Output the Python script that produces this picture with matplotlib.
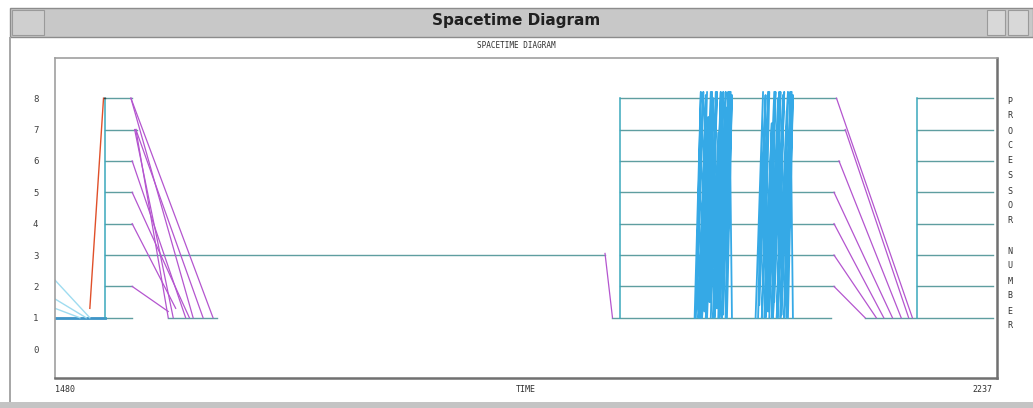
import matplotlib
matplotlib.use("Agg")
import matplotlib.pyplot as plt
from matplotlib.patches import Rectangle

W, H = 1033, 408

T_MIN, T_MAX = 1480, 2237
PROCS = [0, 1, 2, 3, 4, 5, 6, 7, 8]

# processor state lines (start time, end time, processor)
state_t0 = [1480, 1520, 1520, 1520, 1520, 1520, 1520, 1520, 1571,
            1928, 1934, 1934, 1934, 1934, 1934, 1934, 1934,
            2131, 2173, 2173, 2173, 2173, 2173, 2173, 2173]
state_t1 = [1542, 1542, 1922, 1542, 1542, 1542, 1546, 1542, 1610,
            2104, 2106, 2106, 2106, 2106, 2110, 2115, 2108,
            2234, 2234, 2234, 2234, 2234, 2234, 2234, 2234]
state_p = [1, 2, 3, 4, 5, 6, 7, 8, 1,
           1, 2, 3, 4, 5, 6, 7, 8,
           1, 2, 3, 4, 5, 6, 7, 8]

# processor start-up (vertical lines)
start_t = [1520, 1934, 2173]

# messages (t0, p0, t1, p1)
msg_t0 = [1541, 1545, 1544, 1541, 1545, 1542, 1542, 1542, 1542, 1922,
          2108, 2115, 2110, 2106, 2106, 2106, 2106]
msg_p0 = [8, 7, 7, 8, 7, 6, 5, 4, 2, 3.05,
          8, 7, 6, 5, 4, 3, 2]
msg_t1 = [1607, 1571, 1575, 1591, 1599, 1585, 1588, 1577, 1571, 1928,
          2169, 2166, 2160, 2153, 2146, 2140, 2131]
msg_p1 = [1, 1, 1, 1, 1, 1, 1, 1.3, 1.2, 1,
          1, 1, 1, 1, 1, 1, 1]

# spawn line (red) and early light traffic
spawn_t = [1508, 1519, 1520]
spawn_p = [1.3, 8, 8]
early_t0 = [1480, 1480, 1480]
early_p0 = [2.2, 1.6, 1.3]
early_t1 = [1508, 1505, 1500]

# message bursts
b1_t = [1994, 1999, 1995, 2001, 1996, 1998, 2003, 1997, 2004, 1999,
        2005, 2000, 2007, 2002, 2008, 2003, 2009, 2004, 2011, 2006,
        2012, 2007, 2013, 2009, 2015, 2010, 2016, 2012, 2017, 2013,
        2019, 2014, 2020, 2016, 2021, 2017, 2023, 2019, 2024, 2020,
        2022, 2024]
b1_p = [1, 8.2, 1, 8.2, 1.6, 1, 8.1, 1, 8.2, 1,
        7.4, 1, 8.2, 1.2, 8.2, 1, 8, 1, 8.2, 1.5,
        8.2, 1, 6.9, 1, 8.2, 1, 8.1, 1.3, 8.2, 1,
        8.2, 1, 7.7, 1, 8.2, 1.1, 8.2, 1, 8.1, 1,
        8.2, 1]
b2_t = [2043, 2049, 2045, 2051, 2046, 2053, 2048, 2054, 2050, 2056,
        2051, 2058, 2053, 2059, 2054, 2061, 2056, 2062, 2057, 2063,
        2058, 2065, 2060, 2066, 2061, 2068, 2063, 2069, 2064, 2071,
        2066, 2072, 2068, 2073, 2069, 2071, 2073]
b2_p = [1, 8.2, 1, 8.1, 1.4, 8.2, 1, 8.2, 1, 7.2,
        1, 8.2, 1.2, 8.2, 1, 8, 1, 8.2, 1, 8.2,
        1.5, 8.1, 1, 8.2, 1, 7.6, 1, 8.2, 1.1, 8.2,
        1, 8.2, 1, 8.1, 1, 8.2, 1]

STATE_C = "#5f9ea0"
START_C = "#3aa8bc"
MSG_C = "#b455cf"
BURST_C = "#35a9e6"
RED_C = "#e0502a"


def fx(x):
    return x / W


def fy(y):
    return 1 - y / H


fig = plt.figure(figsize=(W / 100, H / 100), dpi=100)
fig.patch.set_facecolor("white")

# window chrome
fig.patches.append(Rectangle((fx(10), fy(37)), fx(1023), 29 / H,
                             transform=fig.transFigure, facecolor="#c8c8c8",
                             edgecolor="#8c8c8c", lw=1))
fig.patches.append(Rectangle((fx(12), fy(35)), fx(32), 25 / H,
                             transform=fig.transFigure, facecolor="#cfcfcf",
                             edgecolor="#9a9a9a", lw=0.8))
fig.patches.append(Rectangle((fx(987), fy(35)), fx(18), 25 / H,
                             transform=fig.transFigure, facecolor="#d8d8d8",
                             edgecolor="#9a9a9a", lw=0.8))
fig.patches.append(Rectangle((fx(1008), fy(35)), fx(20), 25 / H,
                             transform=fig.transFigure, facecolor="#d8d8d8",
                             edgecolor="#9a9a9a", lw=0.8))
fig.patches.append(Rectangle((fx(9), fy(408)), fx(2), 371 / H,
                             transform=fig.transFigure, facecolor="#a8a8a8",
                             edgecolor="none"))
fig.patches.append(Rectangle((0, 0), 1, 6 / H,
                             transform=fig.transFigure, facecolor="#c4c4c4",
                             edgecolor="none"))
fig.text(fx(516), fy(21), "Spacetime Diagram", ha="center", va="center",
         fontsize=11, fontweight="bold", color="#202020")
fig.text(fx(516), fy(46), "SPACETIME DIAGRAM", ha="center", va="center",
         fontsize=5.5, family="DejaVu Sans Mono", color="#303030")

ax = fig.add_axes([fx(55), fy(378), 942 / W, 320 / H])
ax.set_xlim(T_MIN, T_MAX)
ax.set_ylim(-0.92, 9.28)

for t0, t1, p in zip(state_t0, state_t1, state_p):
    ax.plot([t0, t1], [p, p], color=STATE_C, lw=1.0)

ax.plot([1480, 1520], [1, 1], color="#3f95c8", lw=2.0)

for t in start_t:
    ax.plot([t, t], [1, 8], color=START_C, lw=1.1)

for t0, p0, t1 in zip(early_t0, early_p0, early_t1):
    ax.plot([t0, t1], [p0, 1], color="#9fdcf0", lw=1)

ax.plot(spawn_t[:2], spawn_p[:2], color=RED_C, lw=1.0)
ax.plot(spawn_t[1:], spawn_p[1:], color="#404040", lw=1.0)

ax.plot(b1_t, b1_p, color=BURST_C, lw=1.3)
ax.plot(b2_t, b2_p, color=BURST_C, lw=1.3)

for t0, p0, t1, p1 in zip(msg_t0, msg_p0, msg_t1, msg_p1):
    ax.plot([t0, t1], [p0, p1], color=MSG_C, lw=0.9)

ax.set_yticks(PROCS)
ax.set_yticklabels([str(p) for p in PROCS], family="DejaVu Sans Mono",
                   fontsize=6.5, color="#404040")
ax.tick_params(axis="y", length=0, pad=12)
ax.set_xticks([])
for side in ["top", "left"]:
    ax.spines[side].set_color("#a0a0a0")
    ax.spines[side].set_linewidth(1.2)
for side in ["bottom", "right"]:
    ax.spines[side].set_color("#707070")
    ax.spines[side].set_linewidth(1.8)

ax.text(0.0, -0.022, str(T_MIN), transform=ax.transAxes, ha="left", va="top",
        fontsize=6, family="DejaVu Sans Mono", color="#303030")
ax.text(0.5, -0.022, "TIME", transform=ax.transAxes, ha="center", va="top",
        fontsize=6, family="DejaVu Sans Mono", color="#303030")
ax.text(0.995, -0.022, str(T_MAX), transform=ax.transAxes, ha="right", va="top",
        fontsize=6, family="DejaVu Sans Mono", color="#303030")

label = "PROCESSOR NUMBER"
for i, ch in enumerate(label):
    fig.text(fx(1010), fy(101 + i * 15), ch, ha="center", va="center",
             fontsize=6, family="DejaVu Sans Mono", color="#303030")

fig.savefig("out.png", dpi=100)
